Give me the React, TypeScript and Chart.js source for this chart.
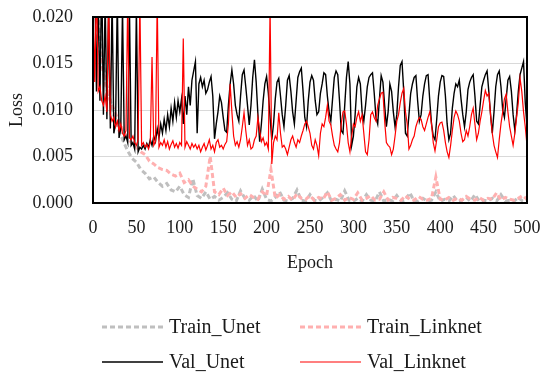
import React, { useEffect, useRef } from "react";
import { Chart, registerables } from "chart.js";

Chart.register(...registerables);

// Sampling steps of the arrays (epochs between consecutive values)
const VAL_STEP = 2;
const TRAIN_STEP = 5;

const X_MIN = 0;
const X_MAX = 500;
const X_TICK_STEP = 50;
const Y_MIN = 0;
const Y_MAX = 0.02;
const Y_TICK_STEP = 0.005;

const seriesNames = ["Train_Unet", "Train_Linknet", "Val_Unet", "Val_Linknet"];

// Val_Unet, every 2 epochs (0..500)
const valUnet = [
  0.030, 0.025, 0.012, 0.022, 0.011, 0.025, 0.0095, 0.022, 0.009, 0.021,
  0.008, 0.022, 0.0075, 0.0085, 0.022, 0.007, 0.008, 0.021, 0.0068, 0.0072,
  0.0065, 0.021, 0.0062, 0.0065, 0.0058, 0.021, 0.0055, 0.006, 0.0058, 0.0062,
  0.0058, 0.0064, 0.006, 0.0068, 0.0062, 0.0072, 0.0066, 0.008, 0.007, 0.0085,
  0.0075, 0.009, 0.0078, 0.0095, 0.0082, 0.0102, 0.0088, 0.0108, 0.0092, 0.011,
  0.0098, 0.0112, 0.0085, 0.0115, 0.0095, 0.0125, 0.0105, 0.0132, 0.0142, 0.0152,
  0.0075, 0.0128, 0.0135, 0.0125, 0.0132, 0.0118, 0.0122, 0.013, 0.0136, 0.0115,
  0.0069, 0.0085, 0.0098, 0.0115, 0.0108, 0.0092, 0.0078, 0.0076, 0.0105, 0.0128,
  0.0143, 0.0128, 0.0105, 0.0095, 0.0088, 0.0115, 0.0138, 0.0143, 0.0125, 0.0105,
  0.0084, 0.0105, 0.0135, 0.0154, 0.013, 0.0095, 0.0066, 0.0085, 0.011, 0.0128,
  0.0136, 0.0118, 0.0092, 0.0068, 0.0085, 0.0112, 0.013, 0.0134, 0.0115, 0.0095,
  0.0082, 0.0105, 0.0132, 0.0137, 0.012, 0.0098, 0.0085, 0.011, 0.0135, 0.0141,
  0.0145, 0.012, 0.0092, 0.0082, 0.011, 0.013, 0.0137, 0.0132, 0.011, 0.0095,
  0.0098, 0.0118, 0.0128, 0.014, 0.0138, 0.0115, 0.0098, 0.0088, 0.0112, 0.0135,
  0.0142, 0.0138, 0.011, 0.0078, 0.0075, 0.0105, 0.0135, 0.0152, 0.0128, 0.0062,
  0.0072, 0.0095, 0.0125, 0.0135, 0.0128, 0.0098, 0.0088, 0.0105, 0.0125, 0.0135,
  0.0138, 0.014, 0.0118, 0.0092, 0.0085, 0.0112, 0.0137, 0.013, 0.0105, 0.0082,
  0.0098, 0.0128, 0.012, 0.0098, 0.0082, 0.0095, 0.0125, 0.0148, 0.0152, 0.012,
  0.0075, 0.0072, 0.0095, 0.0118, 0.0128, 0.0135, 0.0137, 0.011, 0.0088, 0.0095,
  0.0115, 0.0128, 0.0137, 0.0138, 0.011, 0.0085, 0.0072, 0.0068, 0.009, 0.0115,
  0.013, 0.0137, 0.0136, 0.0115, 0.0085, 0.0068, 0.0075, 0.0102, 0.0118, 0.0128,
  0.0125, 0.0132, 0.0112, 0.0095, 0.0082, 0.0098, 0.0122, 0.013, 0.0135, 0.0138,
  0.0115, 0.0088, 0.0085, 0.0105, 0.0125, 0.0132, 0.0138, 0.0142, 0.012, 0.0095,
  0.0075, 0.0098, 0.0125, 0.0138, 0.0142, 0.0125, 0.01, 0.0092, 0.0112, 0.0132,
  0.0136, 0.012, 0.0095, 0.0078, 0.0095, 0.012, 0.0138, 0.0145, 0.0152, 0.0108,
  0.0082,
];

// Val_Linknet, every 2 epochs (0..500)
const valLinknet = [
  0.022, 0.013, 0.024, 0.012, 0.0125, 0.011, 0.0105, 0.0115, 0.0098, 0.022,
  0.0095, 0.0088, 0.0092, 0.0082, 0.0088, 0.0078, 0.0085, 0.0075, 0.0072, 0.0078,
  0.022, 0.007, 0.0068, 0.0072, 0.0065, 0.0062, 0.0068, 0.022, 0.0062, 0.0065,
  0.006, 0.0063, 0.0058, 0.0065, 0.0157, 0.0062, 0.0066, 0.022, 0.006, 0.0065,
  0.0062, 0.0068, 0.006, 0.0066, 0.0058, 0.0063, 0.0067, 0.006, 0.0064, 0.0059,
  0.0065, 0.0062, 0.0177, 0.006, 0.0066, 0.0062, 0.0058, 0.0064, 0.006, 0.0063,
  0.0058, 0.0062, 0.0055, 0.006, 0.0064, 0.0057, 0.0062, 0.0068, 0.0058, 0.0062,
  0.0055, 0.0065, 0.0068, 0.006, 0.0062, 0.0058, 0.0063, 0.0066, 0.0085, 0.0128,
  0.0098, 0.0072, 0.0062, 0.0066, 0.006, 0.0068, 0.0082, 0.0097, 0.0078, 0.0062,
  0.0068, 0.0058, 0.006, 0.0068, 0.0072, 0.0092, 0.0078, 0.0066, 0.007, 0.0062,
  0.0065, 0.0058, 0.021, 0.0042, 0.0065, 0.0072, 0.0068, 0.0097, 0.0075, 0.006,
  0.0062, 0.0058, 0.0052, 0.006, 0.0068, 0.0072, 0.0065, 0.006, 0.0068, 0.0065,
  0.0072, 0.0078, 0.0085, 0.0088, 0.0082, 0.0075, 0.0062, 0.0058, 0.0068, 0.0062,
  0.0051, 0.0075, 0.0085, 0.0082, 0.0092, 0.0105, 0.0088, 0.0084, 0.0072, 0.0062,
  0.0058, 0.0055, 0.0065, 0.0085, 0.0098, 0.0099, 0.0085, 0.0065, 0.0055, 0.0072,
  0.0085, 0.0082, 0.0092, 0.0098, 0.0088, 0.0095, 0.0075, 0.0055, 0.0052, 0.0068,
  0.0095, 0.0098, 0.0092, 0.0088, 0.0105, 0.0112, 0.0118, 0.0119, 0.0088, 0.0065,
  0.0062, 0.006, 0.0052, 0.0058, 0.0072, 0.0088, 0.0095, 0.0108, 0.0118, 0.0123,
  0.0098, 0.0085, 0.0058, 0.0062, 0.0068, 0.0072, 0.0082, 0.0088, 0.0092, 0.009,
  0.0082, 0.0078, 0.0085, 0.0092, 0.0098, 0.0085, 0.0065, 0.0056, 0.0068, 0.0082,
  0.0086, 0.0087, 0.0078, 0.0065, 0.0055, 0.0049, 0.0062, 0.0078, 0.0092, 0.0099,
  0.0095, 0.0088, 0.0075, 0.0066, 0.0068, 0.0078, 0.0072, 0.0082, 0.0095, 0.0102,
  0.0085, 0.0068, 0.0075, 0.0088, 0.0098, 0.011, 0.0121, 0.0115, 0.0118, 0.0095,
  0.0075, 0.0062, 0.0055, 0.0049, 0.0068, 0.0085, 0.0098, 0.0112, 0.0117, 0.0098,
  0.0082, 0.0072, 0.0062, 0.0075, 0.0092, 0.0108, 0.0134, 0.012, 0.0098, 0.0082,
  0.0062,
];

// Train_Unet, every 5 epochs (0..500)
const trainUnet = [
  0.03, 0.021, 0.016, 0.013, 0.011, 0.0092, 0.0078, 0.0066, 0.0056, 0.0048,
  0.0044, 0.0036, 0.0032, 0.0026, 0.0028, 0.0022, 0.0018, 0.0021, 0.0014, 0.0012,
  0.0018, 0.0009, 0.0006, 0.0026, 0.0008, 0.0005, 0.0012, 0.0004, 0.0007, 0.0003,
  0.0006, 0.0011, 0.0004, 0.0002, 0.0013, 0.0005, 0.0003, 0.0008, 0.0002, 0.0015,
  0.0004, 0.0002, 0.0006, 0.0012, 0.0003, 0.0002, 0.0005, 0.0014, 0.0003, 0.0002,
  0.0009, 0.0003, 0.0002, 0.0006, 0.0011, 0.0002, 0.0004, 0.0002, 0.0013, 0.0003,
  0.0002, 0.0005, 0.0002, 0.0009, 0.0003, 0.0002, 0.0012, 0.0002, 0.0004, 0.0002,
  0.0008, 0.0002, 0.0003, 0.0011, 0.0002, 0.0002, 0.0005, 0.0002, 0.0003, 0.0012,
  0.0002, 0.0004, 0.0002, 0.0008, 0.0002, 0.0003, 0.0006, 0.0002, 0.0009, 0.0002,
  0.0003, 0.0002, 0.0005, 0.0002, 0.0009, 0.0002, 0.0003, 0.0002, 0.0006, 0.0002,
  0.0003,
];

// Train_Linknet, every 5 epochs (0..500)
const trainLinknet = [
  0.025, 0.018, 0.015, 0.0125, 0.011, 0.0098, 0.0088, 0.0078, 0.007, 0.0064,
  0.006, 0.0055, 0.0052, 0.0045, 0.0042, 0.0038, 0.0036, 0.0035, 0.0031, 0.0029,
  0.0032, 0.0022, 0.0025, 0.0018, 0.0015, 0.0012, 0.0018, 0.005, 0.0012, 0.0009,
  0.0016, 0.0008, 0.0012, 0.0006, 0.001, 0.0005, 0.0009, 0.0006, 0.0004, 0.0012,
  0.0008, 0.0036, 0.0005, 0.0009, 0.0004, 0.0007, 0.0003, 0.001, 0.0005, 0.0004,
  0.0008, 0.0003, 0.0006, 0.0004, 0.0012, 0.0003, 0.0005, 0.0009, 0.0003, 0.0006,
  0.0004, 0.0011, 0.0003, 0.0005, 0.0008, 0.0003, 0.0004, 0.0012, 0.0003, 0.0006,
  0.0005, 0.0003, 0.0008, 0.0004, 0.0003, 0.0007, 0.0004, 0.0003, 0.0005, 0.0028,
  0.0004, 0.0003, 0.0006, 0.0003, 0.0005, 0.0003, 0.0007, 0.0004, 0.0003, 0.0006,
  0.0003, 0.0005, 0.0004, 0.0011, 0.0003, 0.0006, 0.0004, 0.0003, 0.0005, 0.0008,
  0.0004,
];

const FONT_FAMILY = "'Liberation Serif', 'Times New Roman', serif";
const TEXT_COLOR = "#1a1a1a";

const toPoints = (arr: number[], step: number) =>
  arr.map((v, i) => ({ x: i * step, y: v }));

// custom two-column legend placement (layout only)
const LEGEND_SLOTS = [
  { x: 102, y: 327 },
  { x: 300, y: 327 },
  { x: 102, y: 362 },
  { x: 300, y: 362 },
];
const LEGEND_LINE_LEN = 61;
const LEGEND_GAP = 6;

const framePlugin = {
  id: "frame",
  afterDatasetsDraw(chart: any) {
    const { ctx, chartArea: a } = chart;
    ctx.save();
    ctx.strokeStyle = "#000";
    ctx.lineWidth = 2;
    ctx.strokeRect(a.left, a.top, a.right - a.left, a.bottom - a.top);
    ctx.restore();
  },
};

const legendPlugin = {
  id: "twoColLegend",
  afterDraw(chart: any) {
    const ctx = chart.ctx;
    ctx.save();
    chart.data.datasets.forEach((ds: any, i: number) => {
      const slot = LEGEND_SLOTS[i];
      if (!slot) return;
      ctx.beginPath();
      ctx.strokeStyle = ds.borderColor;
      ctx.lineWidth = ds.borderWidth;
      ctx.setLineDash(ds.borderDash || []);
      ctx.moveTo(slot.x, slot.y);
      ctx.lineTo(slot.x + LEGEND_LINE_LEN, slot.y);
      ctx.stroke();
      ctx.setLineDash([]);
      ctx.fillStyle = TEXT_COLOR;
      ctx.font = `20px ${FONT_FAMILY}`;
      ctx.textAlign = "left";
      ctx.textBaseline = "middle";
      ctx.fillText(ds.label, slot.x + LEGEND_LINE_LEN + LEGEND_GAP, slot.y + 1);
    });
    ctx.restore();
  },
};

export default function App() {
  const canvasRef = useRef<HTMLCanvasElement | null>(null);

  useEffect(() => {
    if (!canvasRef.current) return;
    const font = { family: FONT_FAMILY, size: 18 };
    const chart = new Chart(canvasRef.current, {
      type: "line",
      data: {
        datasets: [
          {
            label: seriesNames[0],
            data: toPoints(trainUnet, TRAIN_STEP),
            borderColor: "#bfbfbf",
            borderWidth: 3,
            borderDash: [5, 3],
            pointRadius: 0,
            tension: 0,
            order: 3,
          } as any,
          {
            label: seriesNames[1],
            data: toPoints(trainLinknet, TRAIN_STEP),
            borderColor: "#ffb0b0",
            borderWidth: 3,
            borderDash: [5, 3],
            pointRadius: 0,
            tension: 0,
            order: 2,
          },
          {
            label: seriesNames[2],
            data: toPoints(valUnet, VAL_STEP),
            borderColor: "#000000",
            borderWidth: 1.4,
            pointRadius: 0,
            tension: 0,
            order: 1,
          },
          {
            label: seriesNames[3],
            data: toPoints(valLinknet, VAL_STEP),
            borderColor: "#ff0000",
            borderWidth: 1.2,
            pointRadius: 0,
            tension: 0,
            order: 0,
          },
        ],
      },
      options: {
        animation: false,
        responsive: false,
        layout: { padding: { top: 17, right: 23, bottom: 102, left: 0 } },
        plugins: {
          legend: { display: false },
          tooltip: { enabled: false },
        },
        scales: {
          x: {
            type: "linear",
            min: X_MIN,
            max: X_MAX,
            ticks: {
              stepSize: X_TICK_STEP,
              padding: 14,
              font,
              color: TEXT_COLOR,
              maxRotation: 0,
            },
            grid: { display: false, drawTicks: false },
            border: { display: false },
            title: {
              display: true,
              text: "Epoch",
              font,
              color: TEXT_COLOR,
              padding: { top: 0, bottom: 4 },
            },
            afterFit: (s: any) => {
              s.height = 75;
              s.paddingLeft = 0;
              s.paddingRight = 0;
            },
          },
          y: {
            min: Y_MIN,
            max: Y_MAX,
            ticks: {
              stepSize: Y_TICK_STEP,
              padding: 20,
              font,
              color: TEXT_COLOR,
              callback: (v: any) => Number(v).toFixed(3),
            },
            grid: { color: "#d9d9d9", lineWidth: 1, drawTicks: false },
            border: { display: false },
            title: {
              display: true,
              text: "Loss",
              font,
              color: TEXT_COLOR,
              padding: { top: 6, bottom: 0 },
            },
            afterFit: (s: any) => {
              s.width = 93;
              s.paddingTop = 0;
              s.paddingBottom = 0;
            },
          },
        },
      },
      plugins: [framePlugin, legendPlugin],
    });
    return () => chart.destroy();
  }, []);

  return (
    <div style={{ position: "fixed", left: 0, top: 0, width: 550, height: 380, background: "#fff" }}>
      <canvas ref={canvasRef} width={550} height={380} />
    </div>
  );
}
